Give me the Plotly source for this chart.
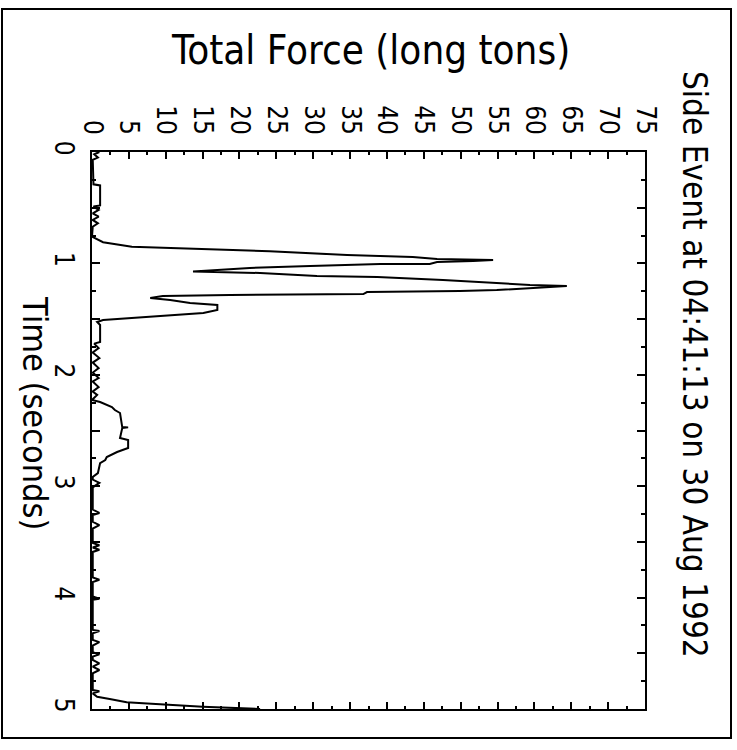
import plotly.graph_objects as go

# ---- data (time in seconds, force in long tons) ----
time_s = [
    0.00, 0.02, 0.05, 0.07, 0.29, 0.30, 0.48, 0.49, 0.52, 0.55, 0.58, 0.61, 0.64, 0.67,
    0.76, 0.81, 0.85, 0.86, 0.88, 0.89, 0.925, 0.943, 0.96, 0.969, 0.978, 0.987, 1.005,
    1.006, 1.023, 1.041, 1.073, 1.086, 1.113, 1.122, 1.149, 1.176, 1.194, 1.203, 1.212,
    1.230, 1.239, 1.248, 1.257, 1.275, 1.279, 1.284, 1.293, 1.311, 1.329, 1.355, 1.373,
    1.418, 1.445, 1.481, 1.508, 1.526, 1.553, 1.706, 1.72, 1.76, 1.80, 1.85, 1.89, 1.94,
    1.98, 2.03, 2.06, 2.11, 2.15, 2.18, 2.226, 2.244, 2.289, 2.316, 2.343, 2.469, 2.472,
    2.478, 2.567, 2.585, 2.657, 2.693, 2.738, 2.765, 2.792, 2.882, 2.917,
    2.94, 2.97, 3.01, 3.21, 3.24, 3.26, 3.32, 3.35, 3.38, 3.51, 3.53, 3.55, 3.57, 3.59,
    3.82, 3.84, 3.86, 3.99, 4.01, 4.02, 4.29, 4.30, 4.32, 4.38, 4.40, 4.43, 4.49, 4.51,
    4.53, 4.56, 4.59, 4.62, 4.65, 4.68, 4.83, 4.84, 4.86,
    4.89, 4.91, 4.94, 4.95, 4.96, 4.98, 5.00,
]
force_lt = [
    1.0, 0.3, 0.8, 0.1, 0.2, 1.1, 1.1, 0.2, 0.9, 0.1, 0.9, 0.1, 0.8, 0.1,
    0.0, 1.5, 5.4, 10.6, 21.0, 24.1, 34.6, 43.5, 46.8, 54.4, 51.7, 46.8, 45.8,
    39.1, 29.6, 21.4, 13.7, 22.8, 30.5, 38.7, 47.6, 55.7, 59.4, 64.4, 62.1,
    58.0, 54.9, 49.9, 37.3, 36.8, 23.2, 18.7, 9.6, 7.9, 10.6, 13.3, 17.0,
    17.0, 15.1, 6.5, 1.5, 0.7, 1.1, 1.1, 0.3, 0.9, 0.1, 1.0, 0.1, 0.9,
    0.1, 0.9, 0.1, 0.9, 0.1, 0.7, 0.0, 1.1, 2.7, 3.1, 3.8, 4.1, 4.9,
    4.1, 3.8, 4.9, 4.9, 3.4, 2.0, 1.8, 1.1, 0.8, 0.1,
    0.1, 1.0, 0.1, 0.1, 1.0, 0.1, 0.1, 1.0, 0.1, 0.1, 1.0, 0.1, 1.0, 0.1,
    0.1, 1.0, 0.1, 0.1, 1.0, 0.1, 0.1, 1.0, 0.1, 0.1, 1.0, 0.1, 0.1, 1.0,
    0.1, 0.1, 1.0, 0.1, 1.0, 0.1, 0.1, 1.0, 0.1,
    0.7, 2.4, 4.7, 7.5, 9.6, 15.0, 22.8,
]

force_ticks = [0, 5, 10, 15, 20, 25, 30, 35, 40, 45, 50, 55, 60, 65, 70, 75]
force_labels = [str(v) for v in force_ticks]
time_ticks = [0, 0.5, 1, 1.5, 2, 2.5, 3, 3.5, 4, 4.5, 5]
time_labels = ["0", "", "1", "", "2", "", "3", "", "4", "", "5"]

title_text = "Total Force (long tons)"
side_text = "Side Event at 04:41:13 on 30 Aug 1992"
time_title = "Time (seconds)"

# ---- layout geometry (pixels) ----
W, H = 737, 750
L, R, T, B = 92, 645, 152, 709
FONT = "DejaVu Sans Condensed, DejaVu Sans, sans-serif"


def px(x):
    return (x - L) / (R - L)


def py(y):
    return (B - y) / (B - T)


fig = go.Figure()
fig.add_trace(go.Scatter(x=force_lt, y=time_s, mode="lines",
                         line=dict(color="black", width=2), hoverinfo="skip",
                         showlegend=False))

fig.update_layout(
    width=W, height=H,
    margin=dict(l=L, r=W - R, t=T, b=H - B, pad=0),
    paper_bgcolor="white", plot_bgcolor="white",
    font=dict(family=FONT, color="black"),
    xaxis=dict(
        range=[0, 75], side="top", tickmode="array", tickvals=force_ticks,
        ticktext=force_labels, tickangle=90, ticks="inside", ticklen=7, tickwidth=2,
        tickcolor="black", showline=True, linecolor="black", linewidth=2,
        mirror="allticks", showgrid=False, zeroline=False,
        tickfont=dict(size=26, family=FONT, color="black"), ticklabelstandoff=6,
        minor=dict(ticks="inside", ticklen=3, tickwidth=2, tickcolor="black",
                   dtick=2.5, tick0=0, showgrid=False),
    ),
    yaxis=dict(
        range=[5, 0], tickmode="array", tickvals=time_ticks, ticktext=time_labels,
        tickangle=90, ticks="inside", ticklen=8, tickwidth=2, tickcolor="black",
        showline=True, linecolor="black", linewidth=2, mirror="allticks",
        showgrid=False, zeroline=False,
        tickfont=dict(size=26, family=FONT, color="black"), ticklabelstandoff=4,
        minor=dict(ticks="inside", ticklen=4, tickwidth=2, tickcolor="black",
                   dtick=0.25, tick0=0, showgrid=False),
    ),
    annotations=[
        dict(text=title_text, xref="paper", yref="paper", x=px(370), y=py(50),
             xanchor="center", yanchor="middle", showarrow=False,
             font=dict(size=40, family=FONT, color="black")),
        dict(text=side_text, xref="paper", yref="paper", x=px(695), y=py(364),
             xanchor="center", yanchor="middle", showarrow=False, textangle=90,
             font=dict(size=33, family=FONT, color="black")),
        dict(text=time_title, xref="paper", yref="paper", x=px(35), y=py(413),
             xanchor="center", yanchor="middle", showarrow=False, textangle=90,
             font=dict(size=34, family=FONT, color="black")),
    ],
    shapes=[
        dict(type="rect", xref="paper", yref="paper", x0=px(2), x1=px(731),
             y0=py(738), y1=py(9), line=dict(color="black", width=2),
             fillcolor="rgba(0,0,0,0)", layer="below"),
    ],
)

fig.write_html("out.html")
